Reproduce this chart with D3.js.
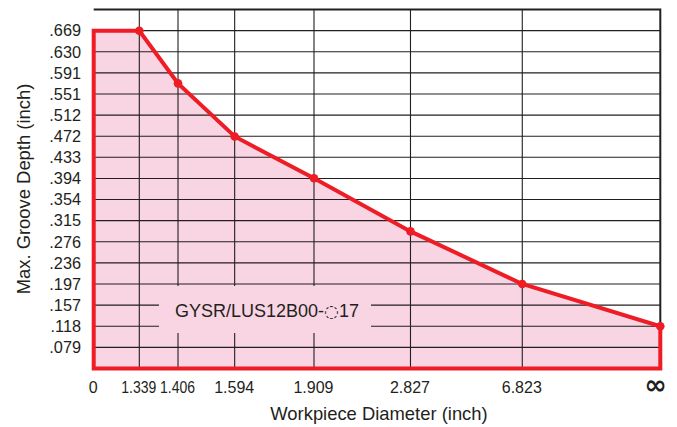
<!DOCTYPE html>
<html><head><meta charset="utf-8">
<script src="https://cdn.jsdelivr.net/npm/d3@7"></script>
<style>
html,body{margin:0;padding:0;background:#fff;}
svg{display:block;font-family:"Liberation Sans",Arial,Helvetica,sans-serif;}
</style></head>
<body><svg id="c" width="677" height="427"></svg>
<script>
// ---- data ----
const xLabels = ["0","1.339","1.406","1.594","1.909","2.827","6.823","∞"];
const depthValues = [0.669, 0.669, 0.571, 0.472, 0.394, 0.295, 0.197, 0.118];
const yTickLabels = [".079",".118",".157",".197",".236",".276",".315",".354",".394",".433",".472",".512",".551",".591",".630",".669"];
const yTickValues = [0.0787,0.1181,0.1575,0.1969,0.2362,0.2756,0.3150,0.3543,0.3937,0.4331,0.4724,0.5118,0.5512,0.5906,0.6299,0.6693];
const seriesLabelParts = ["GYSR/LUS12B00-", "\u25CC", "17"];
const xTitle = "Workpiece Diameter (inch)";
const yTitle = "Max. Groove Depth (inch)";

// ---- layout ----
const L = 93.7, R = 660.3, T = 9.5, B = 368.5;
const xFrac = [0, 0.0805, 0.1488, 0.2488, 0.3888, 0.5591, 0.7564, 1];
const ink = "#231f20", red = "#ee1d25", pink = "#f9d4e3";

const svg = d3.select("#c");
const idx = d3.range(xLabels.length);
const x = d3.scaleLinear().domain(idx).range(xFrac.map(f => L + f*(R-L)));
const y = d3.scaleLinear().domain([0.03937, 0.70866]).range([B, T]);

// pink area
const pts = depthValues.map((v,i)=>[x(i), y(v)]);
const area = d3.area().x(d=>d[0]).y0(y(0.03937)).y1(d=>d[1]);
svg.append("path").attr("d", area(pts)).attr("fill", pink);

// grid
const g = svg.append("g").attr("stroke", ink).attr("stroke-width", 1.1).attr("fill","none");
yTickValues.forEach(v=>{
  g.append("line").attr("x1",L).attr("x2",R).attr("y1",y(v)).attr("y2",y(v));
});
idx.slice(1,-1).forEach(i=>{
  g.append("line").attr("x1",x(i)).attr("x2",x(i)).attr("y1",T).attr("y2",B);
});
// top & right border
svg.append("path").attr("d",`M${L},${T}H${R}V${B}`).attr("stroke",ink).attr("stroke-width",2).attr("fill","none");

// label box
svg.append("rect").attr("x",159).attr("y",286).attr("width",212).attr("height",47).attr("fill",pink);
const lt = svg.append("text").attr("x",267).attr("y",316.5).attr("text-anchor","middle")
  .attr("font-size",18).attr("fill",ink);
lt.append("tspan").text(seriesLabelParts[0]);
lt.append("tspan").attr("font-family","DejaVu Sans").attr("font-size",17).text(seriesLabelParts[1]);
lt.append("tspan").text(seriesLabelParts[2]);

// red outline
const outline = [[x(0), y(0.03937)], ...pts, [x(idx.length-1), y(0.03937)]];
svg.append("path").attr("d", d3.line()(outline) + "Z")
  .attr("fill","none").attr("stroke",red).attr("stroke-width",4).attr("stroke-linejoin","miter");
svg.selectAll("circle.pt").data(pts.slice(1)).join("circle")
  .attr("cx",d=>d[0]).attr("cy",d=>d[1]).attr("r",4.3).attr("fill",red);

// y tick labels
svg.append("g").selectAll("text").data(yTickLabels).join("text")
  .attr("x",81).attr("y",(d,i)=>y(yTickValues[i])+5.8).attr("text-anchor","end")
  .attr("font-size",16.3).attr("fill",ink).text(d=>d);

// x tick labels
const last = idx.length-1;
svg.append("g").selectAll("text").data(xLabels).join("text")
  .attr("x",(d,i)=> i===last ? x(i)-4.5 : x(i)-0.5)
  .attr("y",(d,i)=> i===last ? 394 : 393)
  .attr("text-anchor","middle")
  .attr("font-size",(d,i)=> i===last ? 27 : 16)
  .attr("font-family",(d,i)=> i===last ? "DejaVu Sans" : null)
  .attr("font-weight",(d,i)=> i===last ? "bold" : "normal")
  .attr("fill",ink)
  .each(function(d,i){ if(i===1||i===2){ d3.select(this).attr("textLength",35).attr("lengthAdjust","spacingAndGlyphs"); } })
  .text(d=>d);

// axis titles
svg.append("text").attr("x",379).attr("y",419.5).attr("text-anchor","middle")
  .attr("font-size",18.4).attr("fill",ink).text(xTitle);
svg.append("text").attr("transform",`translate(30,${(T+B)/2}) rotate(-90)`).attr("text-anchor","middle")
  .attr("font-size",18.4).attr("fill",ink).text(yTitle);
</script></body></html>
